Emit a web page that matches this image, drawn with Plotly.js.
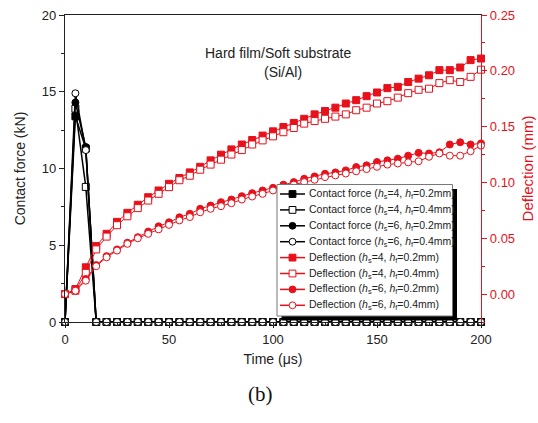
<!DOCTYPE html>
<html>
<head>
<meta charset="utf-8">
<script src="https://cdn.plot.ly/plotly-3.0.1.min.js"></script>
<style>html,body{margin:0;padding:0;background:#fff;}#chart{width:538px;height:423px;}</style>
</head>
<body>
<div id="chart"></div>
<script>
// Time (µs)
const time = [0,5,10,15,20,25,30,35,40,45,50,55,60,65,70,75,80,85,90,95,100,
  105,110,115,120,125,130,135,140,145,150,155,160,165,170,175,180,185,190,195,200];

// Contact force (kN)
const forceS4F02 = [0,13.4,11.3,0,0,0,0,0,0,0,0,0,0,0,0,0,0,0,0,0,0,0,0,0,0,0,0,0,0,0,0,0,0,0,0,0,0,0,0,0,0];
const forceS4F04 = [0,13.9,8.8,0,0,0,0,0,0,0,0,0,0,0,0,0,0,0,0,0,0,0,0,0,0,0,0,0,0,0,0,0,0,0,0,0,0,0,0,0,0];
const forceS6F02 = [0,14.3,11.4,0,0,0,0,0,0,0,0,0,0,0,0,0,0,0,0,0,0,0,0,0,0,0,0,0,0,0,0,0,0,0,0,0,0,0,0,0,0];
const forceS6F04 = [0,14.9,11.2,0,0,0,0,0,0,0,0,0,0,0,0,0,0,0,0,0,0,0,0,0,0,0,0,0,0,0,0,0,0,0,0,0,0,0,0,0,0];

// Deflection (mm)
const deflS4F02 = [0.000,0.0045,0.024,0.043,0.054,0.0647,0.0728,0.080,0.0868,0.0928,0.0988,
  0.104,0.109,0.114,0.1198,0.1249,0.1296,0.134,0.138,0.142,0.1458,
  0.1497,0.1533,0.157,0.161,0.164,0.167,0.1707,0.1737,0.1773,0.1806,
  0.1845,0.1856,0.190,0.193,0.196,0.2006,0.2006,0.203,0.2096,0.211];
const deflS4F04 = [0.000,0.003,0.019,0.040,0.0515,0.0617,0.0697,0.077,0.0838,0.0898,0.0958,
  0.102,0.106,0.1114,0.116,0.1204,0.125,0.129,0.134,0.1377,0.1413,
  0.145,0.1488,0.1527,0.155,0.157,0.159,0.161,0.1647,0.167,0.1707,
  0.1728,0.176,0.180,0.1830,0.184,0.189,0.1916,0.190,0.1946,0.201];
const deflS6F02 = [0.000,0.003,0.0135,0.026,0.034,0.040,0.046,0.051,0.056,0.0607,0.0643,
  0.0688,0.0719,0.0764,0.0793,0.0823,0.0847,0.0877,0.0904,0.0928,0.0952,
  0.098,0.1003,0.1033,0.1054,0.1078,0.109,0.1108,0.1138,0.1153,0.1183,
  0.1198,0.1213,0.124,0.1265,0.126,0.127,0.134,0.136,0.134,0.135];
const deflS6F04 = [0.000,0.003,0.012,0.025,0.033,0.039,0.045,0.050,0.054,0.058,0.062,
  0.066,0.069,0.0733,0.0764,0.0787,0.0814,0.0847,0.0874,0.0898,0.0928,
  0.0958,0.098,0.1003,0.1024,0.1048,0.1063,0.108,0.110,0.112,0.114,
  0.116,0.117,0.118,0.119,0.123,0.126,0.124,0.124,0.128,0.133];

const legendNames = [
  'Contact force (<i>h</i><sub>s</sub>=4, <i>h</i><sub>f</sub>=0.2mm)',
  'Contact force (<i>h</i><sub>s</sub>=4, <i>h</i><sub>f</sub>=0.4mm)',
  'Contact force (<i>h</i><sub>s</sub>=6, <i>h</i><sub>f</sub>=0.2mm)',
  'Contact force (<i>h</i><sub>s</sub>=6, <i>h</i><sub>f</sub>=0.4mm)',
  'Deflection (<i>h</i><sub>s</sub>=4, <i>h</i><sub>f</sub>=0.2mm)',
  'Deflection (<i>h</i><sub>s</sub>=4, <i>h</i><sub>f</sub>=0.4mm)',
  'Deflection (<i>h</i><sub>s</sub>=6, <i>h</i><sub>f</sub>=0.2mm)',
  'Deflection (<i>h</i><sub>s</sub>=6, <i>h</i><sub>f</sub>=0.4mm)'
];

const BLACK = '#000000';
const RED = '#e8101a';
const FONT = 'Arial, "Liberation Sans", sans-serif';

const seriesDefs = [
  {y: forceS4F02, color: BLACK, symbol: 'square', filled: true,  axis: 'y'},
  {y: forceS4F04, color: BLACK, symbol: 'square', filled: false, axis: 'y'},
  {y: forceS6F02, color: BLACK, symbol: 'circle', filled: true,  axis: 'y'},
  {y: forceS6F04, color: BLACK, symbol: 'circle', filled: false, axis: 'y'},
  {y: deflS4F02, color: RED, symbol: 'square', filled: true,  axis: 'y2'},
  {y: deflS4F04, color: RED, symbol: 'square', filled: false, axis: 'y2'},
  {y: deflS6F02, color: RED, symbol: 'circle', filled: true,  axis: 'y2'},
  {y: deflS6F04, color: RED, symbol: 'circle', filled: false, axis: 'y2'}
];

const data = seriesDefs.map((s, i) => ({
  x: time, y: s.y, name: legendNames[i], type: 'scatter', mode: 'lines+markers',
  yaxis: s.axis, showlegend: false,
  line: {color: s.color, width: s.axis === 'y' ? 1.5 : 1},
  marker: {symbol: s.symbol, size: 7, color: s.filled ? s.color : '#ffffff',
    line: {color: s.color, width: 1}},
  cliponaxis: false
}));

// page geometry (pixels) -> paper coordinates
const W = 538, H = 423, ML = 65, MR = 57, MT = 15, MB = 101;
const PW = W - ML - MR, PH = H - MT - MB;
const px = v => (v - ML) / PW;
const py = v => (MT + PH - v) / PH;

// hand-built legend box (Plotly's own legend rows are too tall)
const box = {l: 277, r: 452.5, t: 184.5, b: 316, shadow: 4.5};
const rowTop = 194, rowStep = 15.9;
const symL = 280, symR = 305, symC = 292.5, ms = 3.4;

const shapes = [
  {type: 'rect', xref: 'paper', yref: 'paper', layer: 'above',
   x0: px(box.l + box.shadow), x1: px(box.r + box.shadow), y0: py(box.b + box.shadow), y1: py(box.t + box.shadow),
   fillcolor: '#000', line: {width: 0}},
  {type: 'rect', xref: 'paper', yref: 'paper', layer: 'above',
   x0: px(box.l), x1: px(box.r), y0: py(box.b), y1: py(box.t),
   fillcolor: '#fff', line: {color: '#777', width: 1}}
];
const annotations = [];
seriesDefs.forEach((s, i) => {
  const yc = rowTop + i * rowStep;
  shapes.push({type: 'line', xref: 'paper', yref: 'paper', layer: 'above',
    x0: px(symL), x1: px(symR), y0: py(yc), y1: py(yc), line: {color: s.color, width: 1.5}});
  shapes.push({type: s.symbol === 'square' ? 'rect' : 'circle', xref: 'paper', yref: 'paper', layer: 'above',
    x0: px(symC - ms), x1: px(symC + ms), y0: py(yc + ms), y1: py(yc - ms),
    fillcolor: s.filled ? s.color : '#fff', line: {color: s.color, width: 1}});
  annotations.push({text: legendNames[i], xref: 'paper', yref: 'paper',
    x: px(306.5), y: py(yc), xanchor: 'left', yanchor: 'middle', showarrow: false,
    font: {size: 10.5, family: FONT, color: '#222'}});
});

annotations.push(
  {text: 'Hard film/Soft substrate', xref: 'paper', yref: 'paper', x: 0.511, y: 0.9097,
   showarrow: false, font: {size: 14, family: FONT, color: '#222'}},
  {text: '(Si/Al)', xref: 'paper', yref: 'paper', x: 0.523, y: 0.8477,
   showarrow: false, font: {size: 14, family: FONT, color: '#222'}},
  {text: '(b)', xref: 'paper', yref: 'paper', x: 0.4695, y: -0.281,
   showarrow: false, font: {size: 21, family: '"Liberation Serif", "Times New Roman", serif', color: '#111'}}
);

const layout = {
  width: W, height: H,
  margin: {l: ML, r: MR, t: MT, b: MB},
  paper_bgcolor: '#ffffff', plot_bgcolor: '#ffffff',
  font: {family: FONT, size: 13, color: '#222'},
  showlegend: false,
  xaxis: {
    range: [0, 200], showgrid: false, zeroline: false,
    showline: true, linecolor: '#222', linewidth: 1.2, mirror: true,
    ticks: 'outside', ticklen: 5, tickcolor: '#222', tickvals: [0,50,100,150,200],
    minor: {ticks: 'outside', ticklen: 3, tickvals: [25,75,125,175], tickcolor: '#222'},
    tickfont: {size: 13, family: FONT, color: '#222'},
    title: {text: 'Time (μs)', font: {size: 14, family: FONT, color: '#222'}, standoff: 8}
  },
  yaxis: {
    range: [0, 20], showgrid: false, zeroline: false,
    showline: true, linecolor: '#222', linewidth: 1.2,
    ticks: 'outside', ticklen: 5, tickcolor: '#222', tickvals: [0,5,10,15,20],
    minor: {ticks: 'outside', ticklen: 3, tickvals: [2.5,7.5,12.5,17.5], tickcolor: '#222'},
    tickfont: {size: 13, family: FONT, color: '#222'},
    title: {text: 'Contact force (kN)', font: {size: 14, family: FONT, color: '#222'}, standoff: 12}
  },
  yaxis2: {
    overlaying: 'y', side: 'right', range: [-0.025, 0.25],
    showgrid: false, zeroline: false,
    showline: true, linecolor: RED, linewidth: 1.2,
    ticks: 'outside', ticklen: 5, tickcolor: RED,
    tickvals: [0,0.05,0.1,0.15,0.2,0.25], ticktext: ['0.00','0.05','0.10','0.15','0.20','0.25'],
    minor: {ticks: 'outside', ticklen: 3, tickvals: [-0.025,0.025,0.075,0.125,0.175,0.225], tickcolor: RED},
    tickfont: {size: 13, family: FONT, color: RED},
    title: {text: 'Deflection (mm)', font: {size: 15, family: FONT, color: RED}, standoff: 8}
  },
  shapes: shapes,
  annotations: annotations
};

Plotly.newPlot('chart', data, layout, {displayModeBar: false, staticPlot: true});
</script>
</body>
</html>
